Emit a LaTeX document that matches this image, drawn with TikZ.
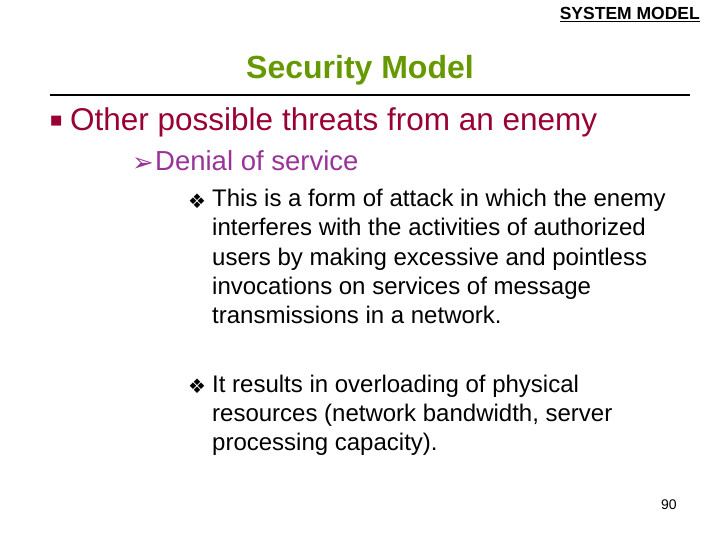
\documentclass[tikz,border=0pt]{standalone}
\usepackage{fontspec}
\setmainfont{Liberation Sans}
\newfontfamily\dv{DejaVu Sans}
\definecolor{dred}{HTML}{990033}
\definecolor{purp}{HTML}{993399}
\definecolor{tgreen}{HTML}{669900}
\begin{document}
\begin{tikzpicture}[x=1pt,y=-1pt,
  t/.style={anchor=base west,inner sep=0pt},
  body/.style={t,font=\fontsize{24}{29}\selectfont}]
\useasboundingbox (0,0) rectangle (720,540);
\node[anchor=base east,inner sep=0pt,font=\fontsize{17.5}{18}\selectfont\bfseries] (hdr) at (700,20) {\underline{SYSTEM MODEL}};
\node[anchor=base,inner sep=0pt,font=\fontsize{32}{34}\selectfont\bfseries,text=tgreen] (title) at (360,79) {Security Model};
\coordinate (l1) at (50,95); \coordinate (l2) at (690,95);
\draw[line width=2.5pt] (l1) -- (l2);
\node[t,font=\dv\fontsize{13}{16}\selectfont,text=dred] (b1) at (50,125) {■};
\node[t,font=\fontsize{31.5}{32}\selectfont,text=dred] (o1) at (70,131) {Other possible threats from an enemy};
\node[t,font=\dv\fontsize{26}{28}\selectfont,text=purp] (b2) at (132,172) {➢};
\node[t,font=\fontsize{27.5}{28}\selectfont,text=purp] (o2) at (155,171) {Denial of service};
\node[t,font=\dv\fontsize{20}{22}\selectfont] (b3) at (188,208) {❖};
\node[body] (p1a) at (212,207) {This is a form of attack in which the enemy};
\node[body] (p1b) at (212,236) {interferes with the activities of authorized};
\node[body] (p1c) at (212,265) {users by making excessive and pointless};
\node[body] (p1d) at (212,294) {invocations on services of message};
\node[body] (p1e) at (212,323) {transmissions in a network.};
\node[t,font=\dv\fontsize{20}{22}\selectfont] (b4) at (188,393) {❖};
\node[body] (p2a) at (212,392) {It results in overloading of physical};
\node[body] (p2b) at (212,421) {resources (network bandwidth, server};
\node[body] (p2c) at (212,450) {processing capacity).};
\node[t,font=\fontsize{14}{16}\selectfont] (pg) at (661,509) {90};
\end{tikzpicture}
\end{document}
